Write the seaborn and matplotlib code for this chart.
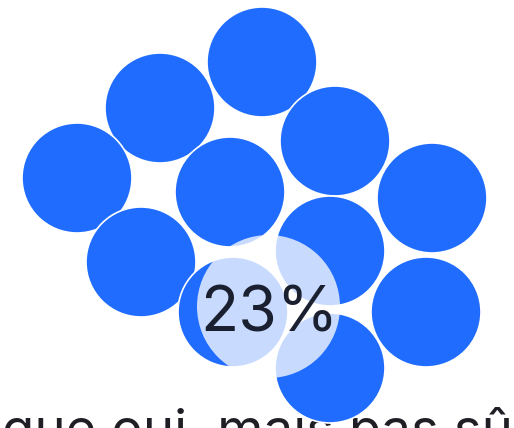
import matplotlib
matplotlib.use("Agg")
import matplotlib.pyplot as plt
import seaborn as sns
import pandas as pd

# Bubble data (pixel-space layout of the packed bubbles)
bubble_x = [262, 160, 77, 230, 335, 432, 141, 330, 426, 330, 233]
bubble_y = [62, 108, 178, 192, 141, 198, 262, 251, 312, 368, 312]
bubble_r = [55, 55, 55, 55, 55, 55, 55, 55, 55, 55, 55]

highlight_x = [268]
highlight_y = [306]
highlight_r = [71.5]
highlight_label = "23%"
category_label = "que oui, mais pas sûr"

BLUE = "#1f6cff"
DPI = 100
W, H = 514, 428

sns.set_theme(style="white")
plt.rcParams['font.family'] = ['Inter', 'DejaVu Sans']

fig = plt.figure(figsize=(W / DPI, H / DPI), dpi=DPI)
ax = fig.add_axes([0, 0, 1, 1])

def area(r):
    return (2 * r * 72 / DPI) ** 2

df = pd.DataFrame({"x": bubble_x, "y": bubble_y, "r": bubble_r})
sizes = {r: area(r) for r in set(bubble_r)}

ax.text(2, 447, category_label, ha="left", va="baseline", fontsize=38,
        color="#1e1e24", zorder=1)

sns.scatterplot(data=df, x="x", y="y", size="r", sizes=sizes, color=BLUE,
                edgecolor="white", linewidth=1.2, legend=False, ax=ax, zorder=2)

hdf = pd.DataFrame({"x": highlight_x, "y": highlight_y, "r": highlight_r})
sns.scatterplot(data=hdf, x="x", y="y", s=area(highlight_r[0]), color="#ffffff",
                alpha=0.76, linewidth=0, legend=False, ax=ax, zorder=3)

ax.text(highlight_x[0] + 1, 332, highlight_label, ha="center", va="baseline",
        fontsize=45, color="#1b2030", zorder=4)

ax.set_xlim(0, W)
ax.set_ylim(H, 0)
ax.axis("off")
fig.savefig("out.png", dpi=DPI, facecolor="white")
